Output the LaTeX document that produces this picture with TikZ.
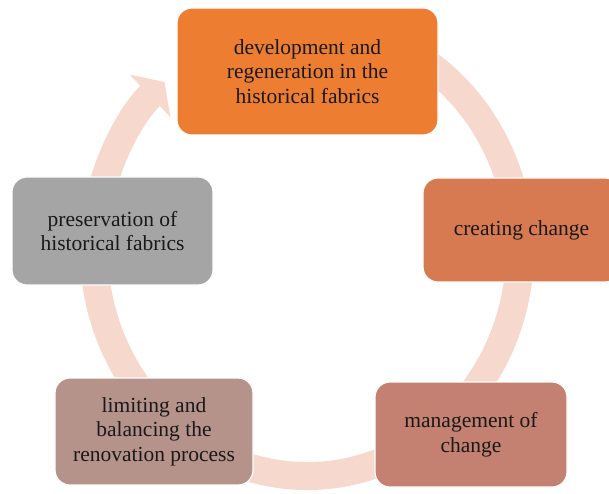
\documentclass[tikz,border=0pt]{standalone}
\usepackage{fontspec}
\setmainfont{Liberation Serif}
\usetikzlibrary{arrows.meta,positioning}
\definecolor{ringpink}{HTML}{F7D8CD}
\definecolor{stepA}{HTML}{ED7D31}
\definecolor{stepB}{HTML}{D77A52}
\definecolor{stepC}{HTML}{C48070}
\definecolor{stepD}{HTML}{B5928A}
\definecolor{stepE}{HTML}{A5A5A5}
\tikzstyle{stage}=[rectangle, rounded corners=15pt, draw=white,
                   line width=1.2pt, align=center, inner sep=2pt,
                   font=\fontsize{21.5}{24.5}\selectfont, text=black!90]
\tikzstyle{ring} =[line width=28pt, draw=ringpink,
                   -{Triangle[length=20pt, width=58pt]}]
\begin{document}
\begin{tikzpicture}[x=1pt, y=1pt]
    \useasboundingbox (0,0) rectangle (609,-494);
    % the cycle behind the boxes
    \coordinate (hub) at (307,-250);
    \draw[ring] (hub) ++(75:213pt and 226pt)
        arc[start angle=75, end angle=-228, x radius=213pt, y radius=226pt];
    % the five stages
    \node (develop) [stage, fill=stepA, minimum width=261pt,
        minimum height=127pt] at (307.5,-71.5)
        {development and\\regeneration in the\\historical fabrics};
    \node (creating) [stage, fill=stepB, minimum width=197pt,
        minimum height=104pt] at (521.5,-230) {creating change};
    \node (manage) [stage, fill=stepC, minimum width=192pt,
        minimum height=105pt] at (471,-434.5) {management of\\change};
    \node (limit) [stage, fill=stepD, minimum width=198pt,
        minimum height=107pt] at (154,-431.5)
        {limiting and\\balancing the\\renovation process};
    \node (preserve) [stage, fill=stepE, minimum width=201pt,
        minimum height=108pt] at (112.5,-231)
        {preservation of\\historical fabrics};
\end{tikzpicture}
\end{document}
